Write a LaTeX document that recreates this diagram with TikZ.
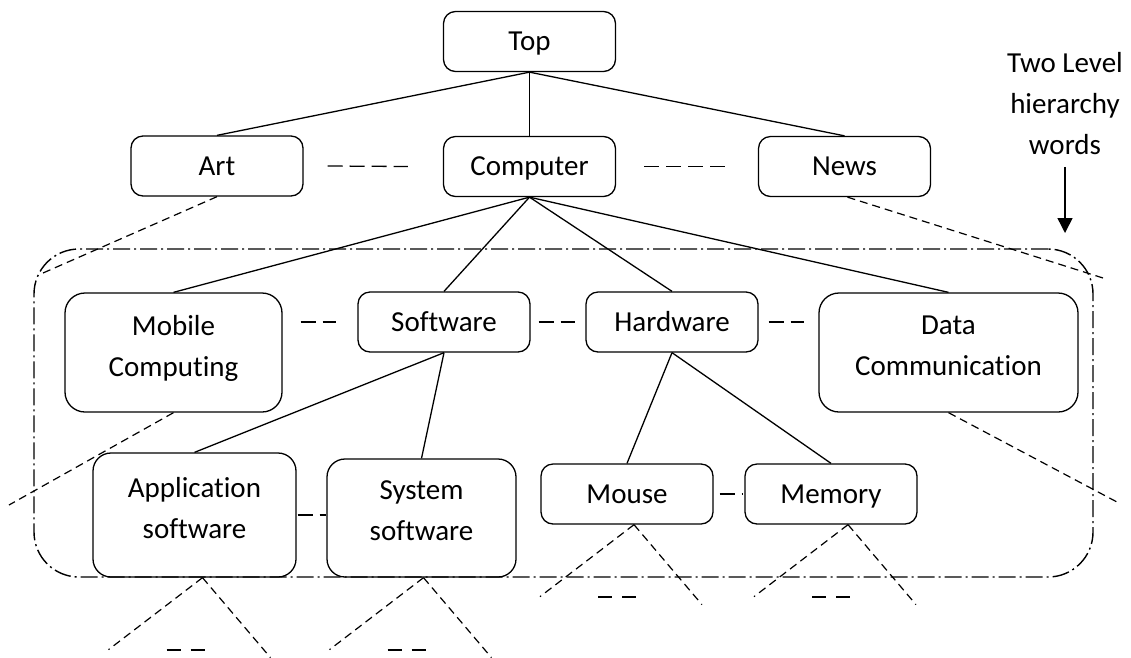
\documentclass[tikz,border=0pt]{standalone}
\usepackage{fontspec}
\setmainfont[Ligatures=NoCommon]{Carlito}
\usetikzlibrary{arrows.meta}
\begin{document}
\begin{tikzpicture}[x=1pt,y=-1pt,
  txt/.style={font=\fontsize{29}{41}\selectfont},
  box/.style={txt, draw, line width=1.3pt, rounded corners=12pt, minimum width=172pt, minimum height=60pt, inner sep=0pt, text height=24pt, text depth=6pt},
  bigbox/.style={txt, draw, line width=1.3pt, rounded corners=20pt, align=center, inner sep=0pt, text depth=14pt},
  conn/.style={line width=1.3pt},
  gapdash/.style={line width=1.3pt, dash pattern=on 15pt off 7pt},
  thindash/.style={line width=1.2pt, dash pattern=on 8pt off 5pt},
  moredash/.style={line width=1.7pt, dash pattern=on 14pt off 10pt},
  dashdot/.style={line width=1.4pt, dash pattern=on 17pt off 4pt on 2pt off 4pt}
]
\useasboundingbox (0,0) rectangle (1131,657);
\fill[white] (0,0) rectangle (1131,657);

% container
\node[draw, dashdot, rounded corners=45pt, minimum width=1059pt, minimum height=328pt, inner sep=0pt] (frame) at (563.5,413) {};

% boxes
\node[box] (top) at (529.5,41.5) {Top};
\node[box] (art) at (217,166) {Art};
\node[box] (comp) at (529.5,166.5) {Computer};
\node[box] (news) at (844.5,166.5) {News};
\node[box] (soft) at (444,322) {Software};
\node[box] (hard) at (672,322) {Hardware};
\node[bigbox, minimum width=217pt, minimum height=119pt] (mob) at (173.5,352.5) {Mobile\\Computing};
\node[bigbox, minimum width=259pt, minimum height=119pt] (dc) at (948.5,352.5) {Data\\Communication};
\node[bigbox, rounded corners=18pt, minimum width=203pt, minimum height=124pt] (app) at (194.5,515) {Application\\software};
\node[bigbox, rounded corners=18pt, minimum width=189pt, minimum height=118pt] (sys) at (421.5,518) {System\\software};
\node[box] (mouse) at (627,494) {Mouse};
\node[box] (mem) at (831,494) {Memory};

% side note
\node[txt, anchor=north, inner sep=0pt, align=center] (hier) at (1065,52) {Two Level\\hierarchy\\words};
\coordinate (arrtip) at (1065,233);
\draw[line width=1.5pt, -{Triangle[width=15pt,length=15pt]}] ([yshift=-12pt]hier.south) -- (arrtip);

% tree connectors
\draw[conn] (top.south) -- (art.north);
\draw[conn] (top.south) -- (comp.north);
\draw[conn] (top.south) -- (news.north);
\draw[conn] (comp.south) -- (mob.north);
\draw[conn] (comp.south) -- (soft.north);
\draw[conn] (comp.south) -- (hard.north);
\draw[conn] (comp.south) -- (dc.north);
\draw[conn] (soft.south) -- (app.north);
\draw[conn] (soft.south) -- (sys.north);
\draw[conn] (hard.south) -- (mouse.north);
\draw[conn] (hard.south) -- (mem.north);

% sibling dashes
\draw[gapdash] ([xshift=24pt]art.east) -- ([xshift=-35pt]comp.west);
\draw[gapdash] ([xshift=28pt]comp.east) -- ([xshift=-30pt]news.west);
\draw[gapdash] ([xshift=18pt]mob.east |- soft.west) -- ([xshift=-21pt]soft.west);
\draw[gapdash] ([xshift=8pt]soft.east) -- ([xshift=-10pt]hard.west);
\draw[gapdash] ([xshift=10pt]hard.east) -- ([xshift=-14pt]dc.west |- hard.east);
\draw[gapdash] ([xshift=1pt]app.east) -- (sys.west |- app.east);
\draw[gapdash] ([xshift=6pt]mouse.east) -- ([xshift=-2pt]mem.west);

% dashed continuations
\coordinate (artend) at (43,273);
\coordinate (newsend) at (1103,278);
\coordinate (mobend) at (9,505);
\coordinate (dcend) at (1117,502);
\draw[thindash] (art.south) -- (artend);
\draw[thindash] ([xshift=3pt]news.south) -- (newsend);
\draw[thindash] (mob.south) -- (mobend);
\draw[thindash] (dc.south) -- (dcend);

% stubs below leaves
\foreach \n/\s in {app/8pt, sys/2pt, mouse/7pt, mem/17pt}{
  \draw[thindash] ([xshift=\s]\n.south) -- ++(-94,72);
  \draw[thindash] ([xshift=\s]\n.south) -- ++(68,80);
  \draw[moredash] ([xshift=\s,yshift=-72pt]\n.south) ++(-36,0) -- ++(38,0);
}
\end{tikzpicture}
\end{document}
